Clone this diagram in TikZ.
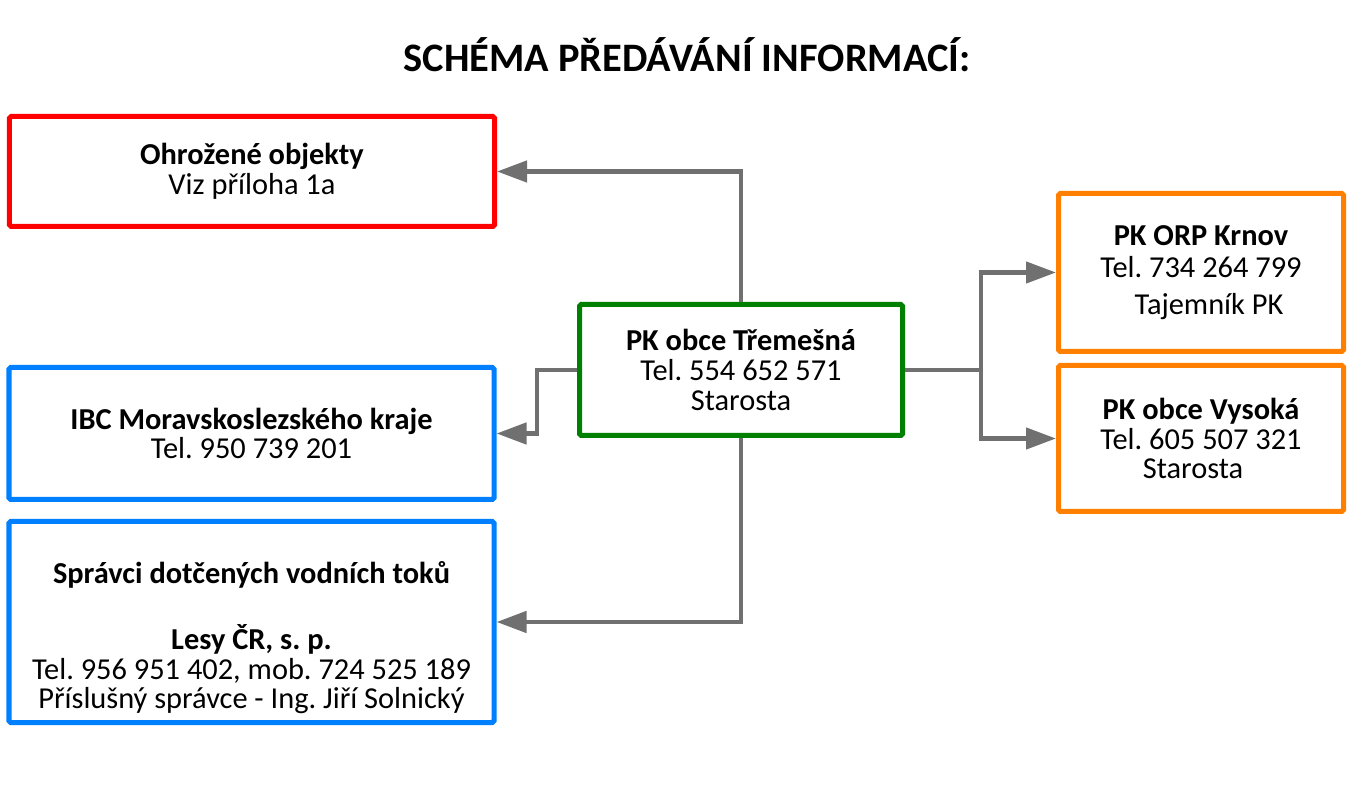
\documentclass[tikz,border=0pt]{standalone}
\usepackage{fontspec}
\setmainfont{Carlito}
\frenchspacing
\usetikzlibrary{arrows.meta}
\definecolor{boxred}{HTML}{FF0000}
\definecolor{boxblue}{HTML}{0080FF}
\definecolor{boxgreen}{HTML}{008000}
\definecolor{boxorange}{HTML}{FF8000}
\definecolor{linegray}{HTML}{707070}
\tikzset{
  box/.style={draw, line width=0.1cm, rounded corners=1pt, align=center, inner sep=0pt,
    font=\fontsize{17.3}{17}\selectfont},
  arr/.style={draw=linegray, line width=0.09cm, -{Triangle[length=0.6cm,width=0.42cm]}}
}
\begin{document}
\begin{tikzpicture}
            \useasboundingbox (0,0) rectangle (27.18,-15.74);

            % Title
            \node[font=\fontsize{23}{26}\selectfont\bfseries] (title) at (13.74,-1.1) {SCHÉMA PŘEDÁVÁNÍ INFORMACÍ:};

            % Nodes
            \node[box, draw=boxgreen, minimum width=6.46cm, minimum height=2.62cm] (tremesna) at (14.82,-7.4)
              {\textbf{PK obce Třemešná}\\ Tel. 554 652 571\\ Starosta};
            \node[box, draw=boxred, minimum width=9.7cm, minimum height=2.2cm] (objekty) at (5.04,-3.43)
              {\textbf{Ohrožené objekty}\\ Viz příloha 1a};
            \node[box, draw=boxblue, minimum width=9.7cm, minimum height=2.64cm] (ibc) at (5.03,-8.67)
              {\textbf{IBC Moravskoslezského kraje}\\ Tel. 950 739 201};
            \node[box, draw=boxblue, minimum width=9.7cm, minimum height=4.02cm] (spravci) at (5.03,-12.44)
              {\strut\\ \textbf{Správci dotčených vodních toků}\\ \strut\\ \textbf{Lesy ČR, s. p.}\\
               Tel. 956 951 402, mob. 724 525 189\\ Příslušný správce - Ing. Jiří Solnický};
            \node[box, draw=boxorange, minimum width=5.7cm, minimum height=3.16cm] (krnov) at (24.02,-5.45)
              {\textbf{PK ORP Krnov}\\[1pt] Tel. 734 264 799\\[4pt] \hspace*{0.32cm}Tajemník PK};
            \node[box, draw=boxorange, minimum width=5.7cm, minimum height=2.92cm] (vysoka) at (24.02,-8.77)
              {\textbf{PK obce Vysoká}\\ Tel. 605 507 321\\ Starosta\hspace*{0.32cm}};

            % Arrows
            \draw[arr] (tremesna.north) |- (objekty.east);
            \draw[arr] (tremesna.west) -- ++(-0.8,0) |- (ibc.east);
            \draw[arr] (tremesna.south) |- (spravci.east);
            \draw[linegray, line width=0.09cm] (tremesna.east) -- ++(1.52,0) coordinate (split);
            \draw[arr] (split) |- (krnov.west);
            \draw[arr] (split) |- (vysoka.west);

\end{tikzpicture}
\end{document}
